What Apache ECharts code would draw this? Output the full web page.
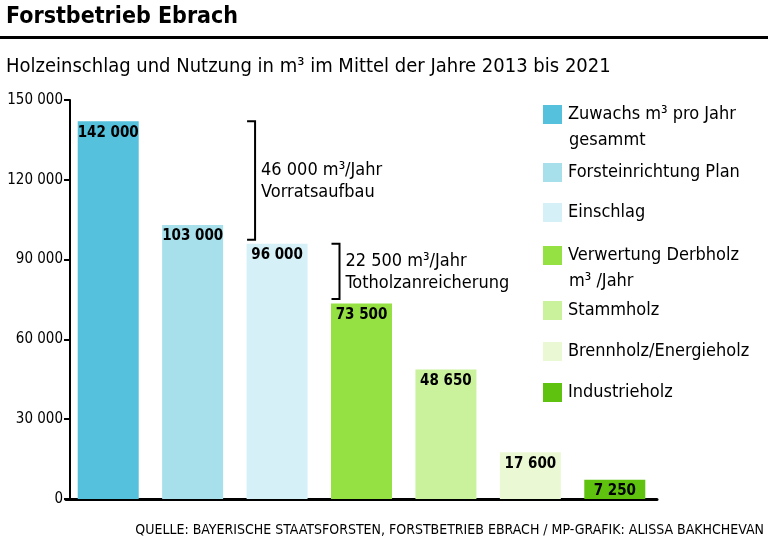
<!DOCTYPE html>
<html><head><meta charset="utf-8">
<script src="https://cdn.jsdelivr.net/npm/echarts@6/dist/echarts.min.js"></script>
<style>html,body{margin:0;padding:0;background:#fff}#c{width:768px;height:541px}</style>
</head><body><div id="c"></div>
<script>
const categories = ['Zuwachs m³ pro Jahr gesammt','Forsteinrichtung Plan','Einschlag','Verwertung Derbholz m³ /Jahr','Stammholz','Brennholz/Energieholz','Industrieholz'];
const legendFirstLines = ['Zuwachs m³ pro Jahr','Forsteinrichtung Plan','Einschlag','Verwertung Derbholz','Stammholz','Brennholz/Energieholz','Industrieholz'];
const legendSecondLines = ['gesammt', '', '', 'm³ /Jahr', '', '', ''];
const values = [142000, 103000, 96000, 73500, 48650, 17600, 7250];
const colors = ['#56c1dc','#a7e0eb','#d5f0f6','#95e043','#caf19b','#eaf9d4','#5ec20f'];
const bracketCats = [2, 3];
const bracketTop = [142000, 96000];
const bracketBottom = [97500, 75200];
const bracketLabels = ['46 000 m³/Jahr\nVorratsaufbau', '22 500 m³/Jahr\nTotholzanreicherung'];
const legendTops = [104, 162, 202, 245, 300, 341, 382];

const F = "'DejaVu Sans Condensed','Liberation Sans Narrow',sans-serif";
const fmt = v => String(v).replace(/\B(?=(\d{3})+(?!\d))/g, ' ');

const chart = echarts.init(document.getElementById('c'));
const series = categories.map((name, i) => ({
  name: name,
  type: 'bar',
  barWidth: 61,
  barGap: '-100%',
  itemStyle: { color: colors[i] },
  label: { show: true, position: 'insideTop', distance: 4, color: '#000', fontFamily: F, fontWeight: 'bold', fontSize: 15, formatter: p => fmt(p.value) },
  data: values.map((v, j) => j === i ? v : null)
}));
series.push({
  type: 'custom',
  silent: true,
  z: 10,
  data: bracketCats.map((c, i) => [c, bracketTop[i], bracketBottom[i], i]),
  renderItem: function (params, api) {
    const c = api.value(0);
    const t = api.coord([c, api.value(1)]);
    const b = api.coord([c, api.value(2)]);
    const x0 = t[0] - 30, x1 = t[0] - 22;
    const st = { stroke: '#000', lineWidth: 2, fill: null };
    return { type: 'group', children: [
      { type: 'polyline', shape: { points: [[x0, t[1]], [x1, t[1]], [x1, b[1]], [x0, b[1]]] }, style: st },
      { type: 'text', style: { text: bracketLabels[api.value(3)], x: x1 + 6, y: (t[1] + b[1]) / 2 + 1, verticalAlign: 'middle', fontFamily: F, fontSize: 18, lineHeight: 22, fill: '#000' } }
    ]};
  }
});

const legends = categories.map((name, i) => ({
  data: [name],
  left: 543,
  top: legendTops[i] - 1,
  padding: 0,
  icon: 'rect',
  itemWidth: 19,
  itemHeight: 19,
  itemGap: 0,
  selectedMode: false,
  formatter: () => legendFirstLines[i],
  textStyle: { fontFamily: F, fontSize: 18, color: '#000', lineHeight: 23, padding: [0, 0, 0, 1] }
}));

const titles = [
  { text: 'Forstbetrieb Ebrach', left: 6, top: 6, padding: 0, textStyle: { fontFamily: F, fontWeight: 'bold', fontSize: 23, color: '#000' } },
  { text: 'Holzeinschlag und Nutzung in m³ im Mittel der Jahre 2013 bis 2021', left: 6, top: 57, padding: 0, textStyle: { fontFamily: F, fontWeight: 'normal', fontSize: 20, color: '#000' } },
  { text: 'QUELLE: BAYERISCHE STAATSFORSTEN, FORSTBETRIEB EBRACH / MP-GRAFIK: ALISSA BAKHCHEVAN', right: 4, top: 523, padding: 0, textStyle: { fontFamily: F, fontWeight: 'normal', fontSize: 14, color: '#000' } }
];
legendSecondLines.forEach((t, i) => {
  if (t) titles.push({ text: t, left: 569, top: legendTops[i] + 25, padding: 0, textStyle: { fontFamily: F, fontWeight: 'normal', fontSize: 18, lineHeight: 23, color: '#000' } });
});

chart.setOption({
  animation: false,
  title: titles,
  graphic: [{ type: 'rect', shape: { x: 0, y: 36, width: 768, height: 3 }, style: { fill: '#000' } }],
  legend: legends,
  grid: { left: 66, right: 111, top: 100, bottom: 42 },
  xAxis: { type: 'category', data: categories, axisLabel: { show: false }, axisTick: { show: false }, axisLine: { lineStyle: { color: '#000', width: 3 } } },
  yAxis: { type: 'value', min: 0, max: 150000, interval: 30000, offset: -4,
    splitLine: { show: false },
    axisLine: { show: true, lineStyle: { color: '#000', width: 2 } },
    axisTick: { show: true, length: 6, lineStyle: { color: '#000', width: 2 } },
    axisLabel: { margin: 7, color: '#000', fontFamily: F, fontSize: 15, formatter: v => fmt(v) } },
  series: series
});
</script></body></html>
